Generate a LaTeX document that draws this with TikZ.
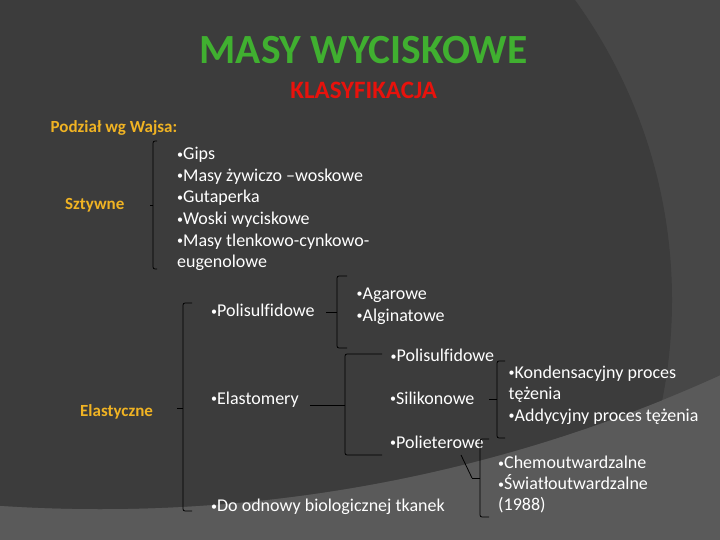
\documentclass[tikz,border=0pt]{standalone}
\usepackage{fontspec}
\setmainfont{Carlito}[Ligatures=CommonOff]
\definecolor{tlociemne}{HTML}{3C3C3C}
\definecolor{tlosrodek}{HTML}{474747}
\definecolor{tlojasne}{HTML}{5A5A5A}
\definecolor{zielony}{HTML}{40B030}
\definecolor{czerwony}{HTML}{E8120C}
\definecolor{zolty}{HTML}{F0B323}
\newcommand{\pkt}{\raisebox{1.5pt}{\fontsize{12}{12}\selectfont•}}

\begin{document}
\begin{tikzpicture}[x=1pt,y=-1pt,
  punkt/.style={anchor=base west,inner sep=0pt,text=white,font=\fontsize{18}{21.6}\selectfont},
  etykieta/.style={anchor=base west,inner sep=0pt,text=zolty,font=\fontsize{17}{20}\selectfont\bfseries},
  klamra/.style={draw=black,line width=0.8pt,rounded corners=2pt}]

\useasboundingbox (0,0) rectangle (720,540);

% tlo slajdu
\fill[tlojasne] (0,0) rectangle (720,540);
\begin{scope}
  \clip (0,0) rectangle (720,540);
  \fill[tlosrodek] (100,-991) circle[radius=1500pt];
  \clip (100,-991) circle[radius=1500pt];
  \fill[tlociemne] (160,300) circle[radius=512pt];
\end{scope}

% naglowki
\node[anchor=base,inner sep=0pt,text=zielony,font=\fontsize{41.5}{45}\selectfont\bfseries] (tytul) at (363.5,63.3) {MASY WYCISKOWE};
\node[anchor=base,inner sep=0pt,text=czerwony,font=\fontsize{25}{28}\selectfont\bfseries] (podtytul) at (363.7,99) {KLASYFIKACJA};
\node[etykieta] (podzial) at (50.5,132.7) {Podział wg Wajsa:};

\node[etykieta] (szt) at (65,210) {Sztywne};
\node[etykieta] (ela) at (80,416.7) {Elastyczne};

% masy sztywne
\foreach \txt [count=\i, evaluate=\i as \y using 138.5+21.5*\i] in
  {\pkt Gips, \pkt Masy żywiczo –woskowe, \pkt Gutaperka, \pkt Woski wyciskowe, \pkt Masy tlenkowo-cynkowo-, eugenolowe}
  \node[punkt] (szt-\i) at (177,\y) {\txt};

% masy elastyczne
\node[punkt] (polis) at (211,316.7) {\pkt Polisulfidowe};
\node[punkt] (elast) at (211,404) {\pkt Elastomery};
\node[punkt] (odnowa) at (211,511.7) {\pkt Do odnowy biologicznej tkanek};

\node[punkt] (agar) at (356.5,299.3) {\pkt Agarowe};
\node[punkt] (algin) at (356.5,321) {\pkt Alginatowe};

\node[punkt] (polis2) at (390.5,361.5) {\pkt Polisulfidowe};
\node[punkt] (silik) at (390,404.3) {\pkt Silikonowe};
\node[punkt] (poliet) at (390,448.3) {\pkt Polieterowe};

\foreach \txt [count=\i, evaluate=\i as \y using 356.8+21.5*\i] in
  {\pkt Kondensacyjny proces, tężenia, \pkt Addycyjny proces tężenia}
  \node[punkt] (kond-\i) at (508.5,\y) {\txt};

\foreach \txt [count=\i, evaluate=\i as \y using 447.3+21.2*\i] in
  {\pkt Chemoutwardzalne, \pkt Światłoutwardzalne, {(1988)}}
  \node[punkt] (chem-\i) at (498,\y) {\txt};

% klamry: x / gora / dol / srodek / koniec prawy / koniec lewy
\foreach \kx/\kg/\kd/\ks/\kp/\kl [count=\n] in
  {153/141/269/205/157/150, 183/303/511/408/192/177, 337/276/348/312/347/326,
   345/354/455/405/382/310, 497/361/438/399/505/489, 480/439/517/478/489/472}{
  \coordinate (k\n-g) at (\kp,\kg);
  \coordinate (k\n-d) at (\kp,\kd);
  \coordinate (k\n-s) at (\kl,\ks);
  \draw[klamra] (k\n-g) -- (\kx,\kg) -- (\kx,\kd) -- (k\n-d);
  \draw[klamra] (\kx,\ks) -- (k\n-s);
}
\coordinate (poliet-dol) at (461,455);
\draw[klamra] (k6-s) -- (poliet-dol);

\end{tikzpicture}
\end{document}
